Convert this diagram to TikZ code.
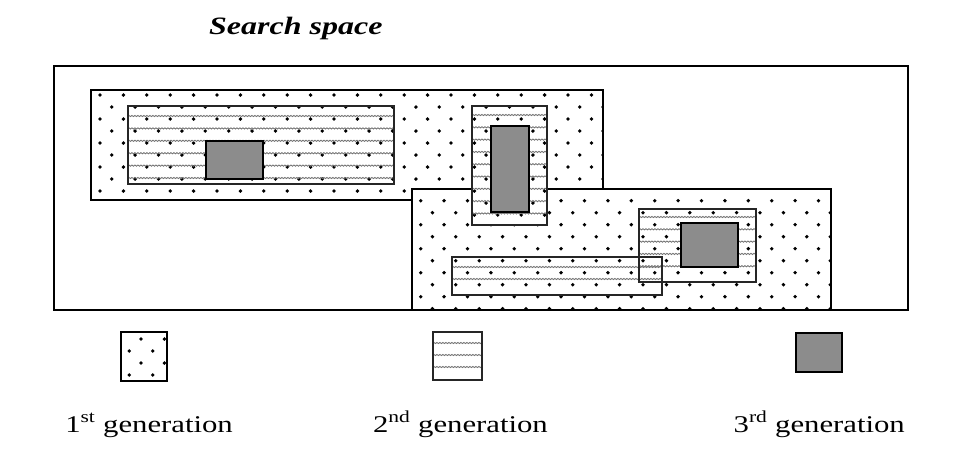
\documentclass[tikz,border=0pt]{standalone}
\usepackage{fontspec}
\setmainfont{Liberation Serif}
\newfontfamily\lblfont[FakeStretch=1.28]{Liberation Serif}
\usetikzlibrary{decorations.pathmorphing}
\newcommand\dotlattice[4]{% x0, y0, rows, cols
  \foreach \r in {0,...,#3}{
    \pgfmathsetmacro\yy{#2+12*\r}
    \pgfmathsetmacro\xo{#1+11.7*mod(\r,2)}
    \foreach \c in {0,...,#4}{
      \fill ({\xo+23.4*\c},\yy) circle (1.9pt);
    }
  }}
\begin{document}
\begin{tikzpicture}[x=1pt,y=-1pt,
  frame/.style={draw=black, line width=2.2pt},
  gen1/.style={draw=black, line width=2pt},
  gen2/.style={draw=black!85, line width=1.7pt},
  gen3/.style={draw=black, line width=2.6pt, fill=black!45},
  wave/.style={draw=black!55, line width=0.85pt, decorate,
    decoration={snake, amplitude=0.6pt, segment length=3pt}},
  lbl/.style={font=\lblfont\fontsize{24}{28}\selectfont, inner sep=0pt, anchor=base east}
]
\useasboundingbox (0,0) rectangle (953,467);

% title
\node[font=\lblfont\bfseries\itshape\fontsize{25}{28}\selectfont, inner sep=0pt, anchor=base west] (title) at (209,34) {Search space};

% search space frame
\draw[frame] (54,66) rectangle (908,310);

% ---- first generation region A ----
\fill[white] (91,90) rectangle (603,200);
\begin{scope}
  \clip (91,90) rectangle (603,200);
  \dotlattice{100}{95}{9}{22}
\end{scope}
% second gen inside A
\begin{scope}
  \clip (128,106) rectangle (394,184);
  \foreach \y in {116,128.4,140.8,153.2,165.6,178}{
    \draw[wave] (128,\y) -- (394,\y);
  }
\end{scope}
\draw[gen2] (128,106) rectangle (394,184);
\draw[gen3] (206,141) rectangle (263,179);
\draw[gen1] (91,90) rectangle (603,200);

% ---- first generation region B ----
\fill[white] (412,189) rectangle (831,310);
\begin{scope}
  \clip (412,189) rectangle (831,310);
  \dotlattice{420.7}{200.7}{9}{18}
\end{scope}
\draw[gen1] (412,189) rectangle (831,310);

% ---- vertical second generation box ----
\fill[white] (472,106) rectangle (547,225);
\begin{scope}
  \clip (472,106) rectangle (547,225);
  \dotlattice{100}{95}{12}{22}
  \foreach \y in {115,127.3,139.6,151.9,164.2,176.5,188.8,201.1,213.4}{
    \draw[wave] (472,\y) -- (547,\y);
  }
\end{scope}
\draw[gen2] (472,106) rectangle (547,225);
\draw[gen3] (491,126) rectangle (529,212);

% ---- right second generation box ----
\begin{scope}
  \clip (639,209) rectangle (756,282);
  \foreach \y in {217,229.3,241.6,253.9,266.2}{
    \draw[wave] (639,\y) -- (756,\y);
  }
\end{scope}
% ---- long second generation box ----
\begin{scope}
  \clip (452,257) rectangle (662,295);
  \foreach \y in {267,279}{
    \draw[wave] (452,\y) -- (662,\y);
  }
\end{scope}
\draw[gen2] (639,209) rectangle (756,282);
\draw[gen2] (452,257) rectangle (662,295);
\draw[gen3] (681,223) rectangle (738,267);

% ---- legend ----
\begin{scope}
  \clip (121,332) rectangle (167,381);
  \dotlattice{117.6}{339}{3}{2}
\end{scope}
\draw[gen1] (121,332) rectangle (167,381);

\begin{scope}
  \clip (433,332) rectangle (482,380);
  \foreach \y in {343,355,367}{
    \draw[wave] (433,\y) -- (482,\y);
  }
\end{scope}
\draw[gen2] (433,332) rectangle (482,380);

\draw[gen3] (796,333) rectangle (842,372);

\node[lbl] (l1) at (233,432) {1\textsuperscript{st} generation};
\node[lbl] (l2) at (548,432) {2\textsuperscript{nd} generation};
\node[lbl] (l3) at (905,432) {3\textsuperscript{rd} generation};
\end{tikzpicture}
\end{document}
